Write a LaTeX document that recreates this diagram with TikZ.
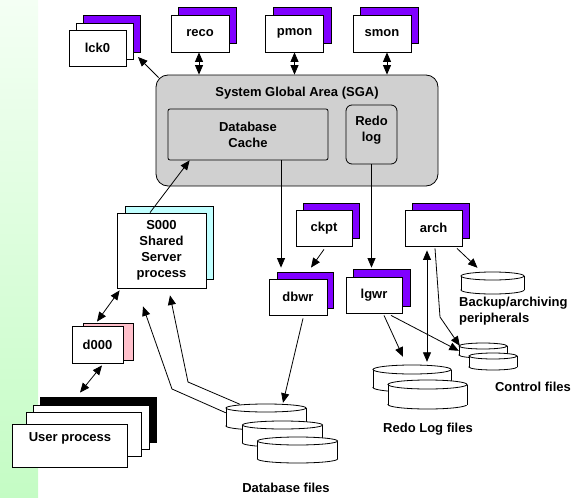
\documentclass[tikz,border=0pt]{standalone}
\usepackage{fontspec}
\setmainfont{Liberation Sans}
\usetikzlibrary{arrows.meta}
\definecolor{vio}{RGB}{128,0,255}
\definecolor{sgagray}{RGB}{208,208,208}
\definecolor{cyanbk}{RGB}{192,255,255}
\definecolor{pinkbk}{RGB}{255,192,203}
\definecolor{greentop}{RGB}{244,255,244}
\definecolor{greenbot}{RGB}{196,252,196}
% name, cx, top edge, width, height, ry
\newcommand\diskcyl[6]{%
  \draw[line width=0.8pt,fill=white] (#2,#3+#5-#6) ellipse [x radius=#4/2, y radius=#6];
  \fill[white] (#2-#4/2,#3+#6) rectangle (#2+#4/2,#3+#5-#6);
  \draw[line width=0.8pt] (#2-#4/2,#3+#6) -- (#2-#4/2,#3+#5-#6) (#2+#4/2,#3+#6) -- (#2+#4/2,#3+#5-#6);
  \draw[line width=0.8pt,fill=white] (#2,#3+#6) ellipse [x radius=#4/2, y radius=#6];
  \node[inner sep=0pt,minimum width=#4pt,minimum height=#5pt] (#1) at (#2,#3+#5/2) {};
}
\tikzset{
  box/.style={draw, line width=0.8pt, inner sep=0pt, font=\bfseries\fontsize{13}{16}\selectfont, align=center},
  lbl/.style={inner sep=0pt, font=\bfseries\fontsize{13}{16}\selectfont, align=center},
  conn/.style={line width=0.8pt},
}
\begin{document}
\begin{tikzpicture}[x=1pt,y=-1pt,>={Triangle[length=9.5pt,width=8pt]}]
\useasboundingbox (0,0) rectangle (571,498);
\shade[top color=greentop, bottom color=greenbot] (0,0) rectangle (38,498);

% background processes
\node[box,fill=vio,minimum width=57pt,minimum height=37pt] (lck0b) at (111.5,33.5) {};
\node[box,fill=white,minimum width=57pt,minimum height=36pt] (lck0m) at (104.5,41) {};
\node[box,fill=white,minimum width=57pt,minimum height=36pt] (lck0) at (97.5,48) {lck0};

\node[box,fill=vio,minimum width=58pt,minimum height=36pt] (recob) at (207,25) {};
\node[box,fill=white,minimum width=58pt,minimum height=37pt] (reco) at (200,33.5) {reco};
\node[box,fill=vio,minimum width=58pt,minimum height=36pt] (pmonb) at (302,25) {};
\node[box,fill=white,minimum width=58pt,minimum height=37pt] (pmon) at (294.5,33.5) {pmon};
\node[box,fill=vio,minimum width=58pt,minimum height=36pt] (smonb) at (389.5,25) {};
\node[box,fill=white,minimum width=58pt,minimum height=37pt] (smon) at (382,33.5) {smon};

% SGA
\node[draw,line width=0.8pt,fill=sgagray,rounded corners=12pt,minimum width=282pt,minimum height=111pt] (sga) at (297,130.5) {};
\node[lbl] (sgat) at (297,93) {System Global Area (SGA)};
\node[box,fill=sgagray,rounded corners=2pt,minimum width=160pt,minimum height=51pt] (cache) at (248,134.5) {Database\\Cache};
\node[box,fill=sgagray,rounded corners=6pt,minimum width=51pt,minimum height=59pt] (redo) at (371.5,134.5) {};
\node[lbl] (redot) at (371.5,130) {Redo\\log};

% shared server, dispatcher, user
\node[box,fill=cyanbk,minimum width=88pt,minimum height=73pt] (s000b) at (169,242.5) {};
\node[box,fill=white,minimum width=89pt,minimum height=75pt] (s000) at (161.5,250.5) {S000\\Shared\\Server\\process};
\node[box,fill=pinkbk,minimum width=50pt,minimum height=37pt] (d000b) at (108,341.5) {};
\node[box,fill=white,minimum width=51pt,minimum height=37pt] (d000) at (97.5,344.5) {d000};
\node[box,fill=black,minimum width=116pt,minimum height=45pt] (userb) at (98,419.5) {};
\node[box,fill=white,minimum width=116pt,minimum height=44pt] (userm1) at (91,427) {};
\node[box,fill=white,minimum width=115pt,minimum height=44pt] (userm2) at (83.5,434) {};
\node[box,fill=white,minimum width=115pt,minimum height=43pt] (user) at (69.5,445.5) {};
\node[lbl] (usert) at (70,438) {User process};

% writers
\node[box,fill=vio,minimum width=56pt,minimum height=36pt] (dbwrb) at (305,290) {};
\node[box,fill=white,minimum width=58pt,minimum height=36pt] (dbwr) at (298,297) {dbwr};
\node[box,fill=vio,minimum width=56pt,minimum height=35pt] (ckptb) at (331,220.5) {};
\node[box,fill=white,minimum width=56pt,minimum height=36pt] (ckpt) at (324,228) {ckpt};
\node[box,fill=vio,minimum width=57pt,minimum height=37pt] (lgwrb) at (381.5,287.5) {};
\node[box,fill=white,minimum width=56pt,minimum height=36pt] (lgwr) at (374,295) {lgwr};
\node[box,fill=vio,minimum width=57pt,minimum height=35pt] (archb) at (440.5,220.5) {};
\node[box,fill=white,minimum width=57pt,minimum height=36pt] (arch) at (433.5,228) {arch};

% disks
\diskcyl{db1}{266}{404}{80}{26}{4}
\diskcyl{db2}{282.5}{421}{80}{26}{4}
\diskcyl{db3}{297.5}{437}{80}{26}{4}
\diskcyl{rl1}{412}{365}{78}{27}{4.5}
\diskcyl{rl2}{427.5}{380}{79}{29}{4.5}
\diskcyl{bk}{492.5}{272}{63}{22}{4}
\diskcyl{cf1}{483}{343}{48}{15}{3}
\diskcyl{cf2}{493}{353}{48}{17}{3}

\node[lbl] (dbf) at (286,488) {Database files};
\node[lbl] (rlf) at (428,429) {Redo Log files};
\node[lbl] (cff) at (533,387) {Control files};
\node[lbl,align=left,anchor=west] (bkf) at (459,311) {Backup/archiving\\peripherals};

% connectors
\coordinate (lckend) at (138,57);
\draw[conn,->] ([shift={(3,3)}]sga.north west) -- (lckend);
\draw[conn,<->] ([shift={(-1,0)}]reco.south) -- ([shift={(-1,0)}]reco.south |- sga.north);
\draw[conn,<->] (pmon.south) -- (pmon.south |- sga.north);
\draw[conn,<->] ([shift={(5,0)}]smon.south) -- ([shift={(5,0)}]smon.south |- sga.north);
\draw[conn,->,shorten >=4pt] ([shift={(33,0)}]cache.south) -- ([shift={(33,0)}]cache.south |- dbwrb.north);
\draw[conn,->,shorten >=1pt] (redo.south) -- (redo.south |- lgwrb.north);
\draw[conn,->] ([shift={(0,3)}]ckpt.south) -- ([shift={(6,-4)}]dbwrb.north);
\draw[conn,->] ([shift={(5,3)}]dbwr.south) -- ([shift={(17,-1)}]db1.north);
\draw[conn,->] ([shift={(-11.5,0)}]s000.north) -- ([shift={(22,0)}]cache.south west);
\draw[conn,<->] ([shift={(3,2)}]s000.south west) -- ([shift={(-0.5,-4)}]d000.north);
\draw[conn,<->] ([shift={(4.5,2)}]d000.south) -- ([shift={(-18,-4)}]userb.north);
\coordinate (bend1) at (172,389);
\coordinate (bend2) at (188,382);
\draw[conn,->] ([shift={(0,9)}]db1.north west) -- (bend1) -- ([shift={(-18.5,18)}]s000.south);
\draw[conn,->] ([shift={(-26,0.5)}]db1.north) -- (bend2) -- ([shift={(8.5,7)}]s000.south);
\draw[conn,->] ([shift={(10,2)}]lgwr.south) -- ([shift={(-9,-8)}]rl1.north);
\draw[conn,->] ([shift={(17,2)}]lgwr.south) -- ([shift={(0,8)}]cf1.north west);
\draw[conn,<->,shorten >=3pt] ([shift={(-6.5,4)}]arch.south) -- ([shift={(-6.5,0)}]arch.south |- rl1.north);
\coordinate (bend3) at (440,317);
\draw[conn,->] ([shift={(1.5,2)}]arch.south) -- (bend3) -- ([shift={(1,3)}]cf1.north west);
\draw[conn,->] ([shift={(23.5,2)}]arch.south) -- ([shift={(-15,-4)}]bk.north);
\end{tikzpicture}
\end{document}
